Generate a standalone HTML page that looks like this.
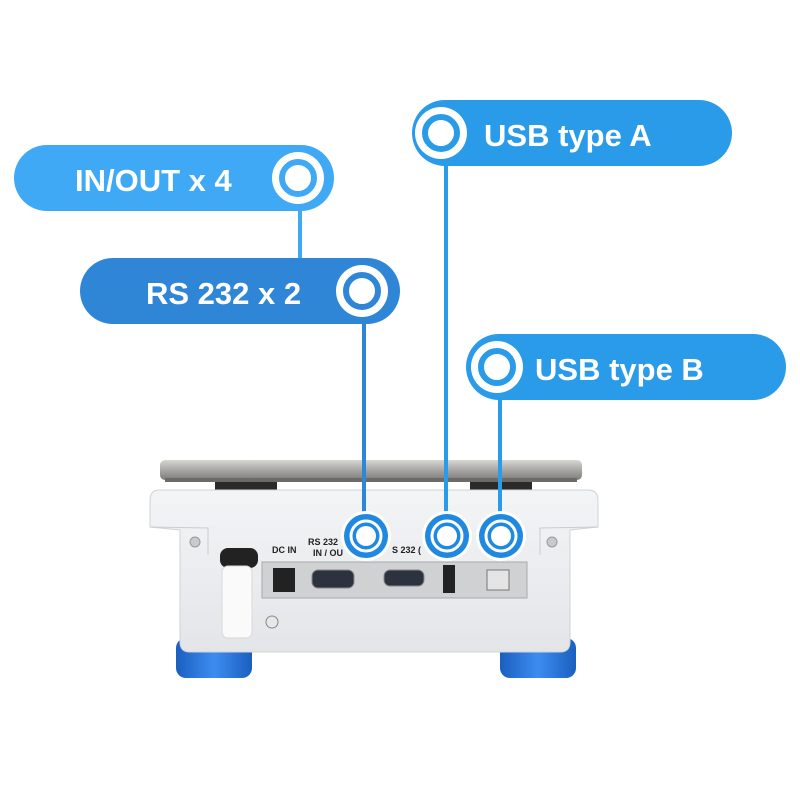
<!DOCTYPE html>
<html><head><meta charset="utf-8"><style>
html,body{margin:0;padding:0;background:#fff;}
svg{display:block;}
text{font-family:"Liberation Sans",sans-serif;font-weight:bold;}
</style></head><body>
<svg width="800" height="800" viewBox="0 0 800 800" xmlns="http://www.w3.org/2000/svg">
<defs>
<linearGradient id="plat" x1="0" y1="0" x2="0" y2="1">
<stop offset="0" stop-color="#d8d6d3"/><stop offset="0.5" stop-color="#a9a7a4"/><stop offset="1" stop-color="#7e7c7a"/></linearGradient>
<linearGradient id="body" x1="0" y1="0" x2="0" y2="1">
<stop offset="0" stop-color="#f3f4f6"/><stop offset="1" stop-color="#e3e5e8"/></linearGradient>
<linearGradient id="foot" x1="0" y1="0" x2="1" y2="0">
<stop offset="0" stop-color="#1a5fc0"/><stop offset="0.5" stop-color="#3d8cf0"/><stop offset="1" stop-color="#1a5fc0"/></linearGradient>
</defs>
<rect x="160" y="460" width="422" height="20" rx="5" fill="url(#plat)"/>
<rect x="215" y="478" width="62" height="12" fill="#2a2a2a"/>
<rect x="470" y="478" width="62" height="12" fill="#2a2a2a"/>
<rect x="165" y="478" width="412" height="4" fill="#6d6b69"/>
<rect x="176" y="638" width="76" height="40" rx="10" fill="url(#foot)"/>
<rect x="500" y="638" width="76" height="40" rx="10" fill="url(#foot)"/>
<path d="M158 490 H588 Q598 490 598 500 V527 L570 530 V642 Q570 652 560 652 H190 Q180 652 180 642 V530 L150 527 V500 Q150 490 160 490 Z" fill="url(#body)" stroke="#d0d3d7" stroke-width="1"/>
<path d="M150 527 L208 528 V555 M598 527 L540 528 V555" stroke="#c9ccd0" fill="none"/>
<circle cx="195" cy="542" r="5" fill="#c8cacd" stroke="#999"/>
<circle cx="552" cy="542" r="5" fill="#c8cacd" stroke="#999"/>
<circle cx="272" cy="622" r="6" fill="#e8e8e8" stroke="#888"/>
<rect x="220" y="548" width="38" height="20" rx="8" fill="#222"/>
<rect x="222" y="566" width="30" height="72" rx="6" fill="#fafafa" stroke="#d8d8d8"/>
<rect x="262" y="562" width="265" height="36" fill="#cfd1d3" stroke="#aaa"/>
<rect x="273" y="568" width="22" height="24" fill="#222"/>
<rect x="312" y="570" width="42" height="18" rx="6" fill="#2d3240" stroke="#888"/>
<rect x="384" y="570" width="40" height="16" rx="6" fill="#2d3240" stroke="#888"/>
<rect x="443" y="565" width="12" height="28" fill="#222"/>
<rect x="487" y="570" width="22" height="20" fill="#e5e5e5" stroke="#777"/>
<text x="272" y="553" font-size="9" fill="#222">DC IN</text>
<text x="308" y="545" font-size="9" fill="#222">RS 232</text>
<text x="313" y="556" font-size="9" fill="#222">IN / OU</text>
<text x="392" y="553" font-size="9" fill="#222">S 232 (</text>

<g stroke-width="4">
<line x1="300" y1="205" x2="300" y2="262" stroke="#3fa9f5"/>
<line x1="364" y1="318" x2="364" y2="530" stroke="#2f86d6"/>
<line x1="446" y1="160" x2="446" y2="530" stroke="#2a9be8"/>
<line x1="500" y1="395" x2="500" y2="530" stroke="#2a9be8"/>
</g>

<rect x="14" y="145" width="320" height="66" rx="33" fill="#3fa9f5"/>
<text x="75" y="191" font-size="31" fill="#fff">IN/OUT x 4</text>
<rect x="80" y="258" width="320" height="66" rx="33" fill="#2f86d6"/>
<text x="146" y="304" font-size="31" fill="#fff">RS 232 x 2</text>
<rect x="412" y="100" width="320" height="66" rx="33" fill="#2a9be8"/>
<text x="484" y="146" font-size="31" fill="#fff">USB type A</text>
<rect x="466" y="334" width="320" height="66" rx="33" fill="#2a9be8"/>
<text x="535" y="380" font-size="31" fill="#fff">USB type B</text>

<g>
<circle cx="298" cy="178" r="26" fill="#fff"/><circle cx="298" cy="178" r="16" fill="none" stroke="#3fa9f5" stroke-width="6"/>
<circle cx="362" cy="291" r="26" fill="#fff"/><circle cx="362" cy="291" r="16" fill="none" stroke="#2f86d6" stroke-width="6"/>
<circle cx="441" cy="133" r="26" fill="#fff"/><circle cx="441" cy="133" r="16" fill="none" stroke="#2a9be8" stroke-width="6"/>
<circle cx="497" cy="367" r="26" fill="#fff"/><circle cx="497" cy="367" r="16" fill="none" stroke="#2a9be8" stroke-width="6"/>
</g>
<g>
<circle cx="366" cy="536" r="25" fill="#fff"/><circle cx="366" cy="536" r="22" fill="#1f88e0"/><circle cx="366" cy="536" r="15" fill="none" stroke="#fff" stroke-width="3"/><circle cx="366" cy="536" r="10" fill="#fff"/>
<circle cx="447" cy="536" r="25" fill="#fff"/><circle cx="447" cy="536" r="22" fill="#1f88e0"/><circle cx="447" cy="536" r="15" fill="none" stroke="#fff" stroke-width="3"/><circle cx="447" cy="536" r="10" fill="#fff"/>
<circle cx="501" cy="536" r="25" fill="#fff"/><circle cx="501" cy="536" r="22" fill="#1f88e0"/><circle cx="501" cy="536" r="15" fill="none" stroke="#fff" stroke-width="3"/><circle cx="501" cy="536" r="10" fill="#fff"/>
</g>
</svg>
</body></html>
